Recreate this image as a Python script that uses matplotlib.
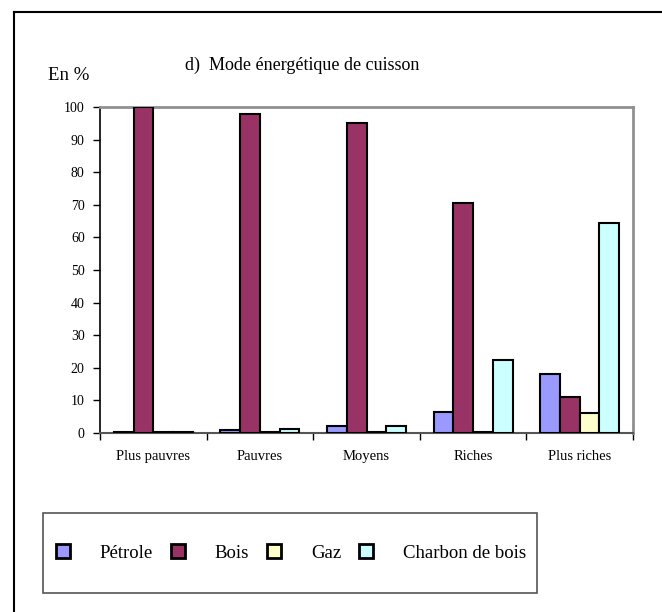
import matplotlib
matplotlib.use("Agg")
import matplotlib.pyplot as plt
from matplotlib.patches import Rectangle, Patch
from matplotlib.lines import Line2D
import numpy as np

plt.rcParams['font.family'] = ['Liberation Serif', 'DejaVu Serif']

categories = ["Plus pauvres", "Pauvres", "Moyens", "Riches", "Plus riches"]
series = ["Pétrole", "Bois", "Gaz", "Charbon de bois"]
petrole = [0.2, 1.0, 2.2, 6.5, 18.1]
bois    = [100.0, 97.7, 95.0, 70.6, 11.0]
gaz     = [0.2, 0.2, 0.2, 0.3, 6.0]
charbon = [0.2, 1.2, 2.2, 22.3, 64.5]
colors  = ["#9999FF", "#993366", "#FFFFCC", "#CCFFFF"]

W, H = 662, 612
fig = plt.figure(figsize=(W/100, H/100), dpi=100)

# outer frame (left and top edges visible)
fig.add_artist(Line2D([14/W, 14/W], [0, 1-12/H], color="black", lw=1.5, transform=fig.transFigure))
fig.add_artist(Line2D([14/W, 1], [1-12/H, 1-12/H], color="black", lw=1.5, transform=fig.transFigure))

ax = fig.add_axes([100/W, 1-433/H, 533/W, 326/H])

x = np.arange(len(categories))
bw = 0.185
for i, (vals, c, name) in enumerate(zip([petrole, bois, gaz, charbon], colors, series)):
    ax.bar(x + (i-1.5)*bw, vals, bw, color=c, edgecolor="black", linewidth=1.5, label=name, zorder=3)

ax.set_xlim(-0.5, len(categories)-0.5)
ax.set_ylim(0, 100)
ax.set_yticks(range(0, 101, 10))
ax.set_xticks(x)
ax.set_xticklabels(categories, fontsize=10.5)
ax.set_xticks(np.arange(-0.5, len(categories)), minor=True)
ax.tick_params(axis="x", which="major", length=0, pad=12)
ax.tick_params(axis="x", which="minor", length=5, width=1, direction="out", color="black")
ax.tick_params(axis="y", length=5, width=1, direction="out", labelsize=10, pad=6)

ax.spines["left"].set_color("black")
ax.spines["left"].set_linewidth(1.2)
ax.spines["bottom"].set_color("#555555")
ax.spines["bottom"].set_linewidth(1.5)
for s in ["top", "right"]:
    ax.spines[s].set_color("#909090")
    ax.spines[s].set_linewidth(2)

fig.text(302/W, 1-65/H, "d)  Mode énergétique de cuisson", fontsize=13, ha="center", va="center")
fig.text(48/W, 1-75/H, "En %", fontsize=13.5, ha="left", va="center")

# legend box
fig.add_artist(Rectangle((43/W, 1-593/H), (537-43)/W, 80/H, transform=fig.transFigure,
                         fill=False, edgecolor="#555555", lw=1.2))
handles = [Patch(facecolor=c, edgecolor="black", linewidth=2) for c in colors]
fig.legend(handles, series, loc="center", bbox_to_anchor=(291/W, 1-553/H), ncol=4,
           frameon=False, fontsize=13.5, handlelength=0.75, handleheight=0.75,
           handletextpad=1.6, columnspacing=0.95)

fig.savefig("out.png", dpi=100)
